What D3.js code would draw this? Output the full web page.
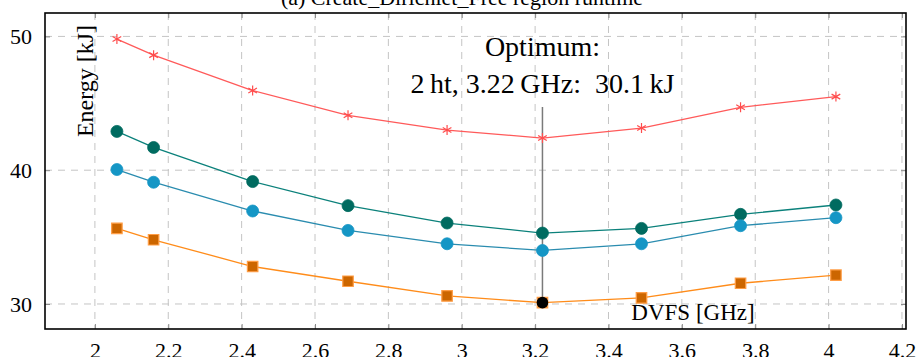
<!DOCTYPE html>
<html>
<head>
<meta charset="utf-8">
<script src="https://cdn.jsdelivr.net/npm/d3@7"></script>
<style>
  body { margin: 0; background: #fff; }
</style>
</head>
<body>
<svg id="chart" width="917" height="357"></svg>
<script>
// data
var freqs = [2.06, 2.16, 2.43, 2.69, 2.96, 3.22, 3.49, 3.76, 4.02];
var redStar = [49.8, 48.6, 45.95, 44.1, 43.0, 42.4, 43.15, 44.7, 45.5];
var tealDot = [42.9, 41.7, 39.15, 37.35, 36.05, 35.3, 35.65, 36.7, 37.4];
var blueDot = [40.05, 39.1, 36.95, 35.5, 34.5, 34.0, 34.5, 35.85, 36.45];
var orangeSq = [35.65, 34.8, 32.8, 31.7, 30.6, 30.1, 30.45, 31.55, 32.15];
var xTicks = [2, 2.2, 2.4, 2.6, 2.8, 3, 3.2, 3.4, 3.6, 3.8, 4, 4.2];
var yTicks = [30, 40, 50];
var optimum = { x: 3.22, y: 30.1 };

var serif = "'Liberation Serif', 'DejaVu Serif', serif";

var svg = d3.select("#chart"),
  margin = { top: 13, right: 11, bottom: 28, left: 45 },
  width = +svg.attr("width") - margin.left - margin.right,
  height = +svg.attr("height") - margin.top - margin.bottom;

var x = d3.scaleLinear().domain([1.864, 4.211]).range([0, width]);
var y = d3.scaleLinear().domain([28.13, 51.75]).range([height, 0]);

// title, cut by the top edge
svg.append("text")
  .attr("x", 462).attr("y", 5)
  .attr("text-anchor", "middle")
  .style("font-family", serif).style("font-size", "22px")
  .text("(a) Create_Dirichlet_Free region runtime");

var g = svg.append("g").attr("transform", "translate(" + margin.left + "," + margin.top + ")");

// grid
g.append("g").selectAll("line").data(xTicks).enter().append("line")
  .attr("x1", d => x(d)).attr("x2", d => x(d))
  .attr("y1", 0).attr("y2", height)
  .attr("stroke", "#c4c4c4").attr("stroke-dasharray", "7,6");
g.append("g").selectAll("line").data(yTicks).enter().append("line")
  .attr("y1", d => y(d)).attr("y2", d => y(d))
  .attr("x1", 0).attr("x2", width)
  .attr("stroke", "#c4c4c4").attr("stroke-dasharray", "7,6");

// axes with inward ticks on all sides
function styleAxis(sel) {
  sel.select(".domain").remove();
  sel.selectAll(".tick line").attr("stroke", "#8a8a8a");
  sel.selectAll("text").style("font-family", serif).style("font-size", "22px").attr("fill", "#000");
}
g.append("g").attr("transform", "translate(0," + height + ")")
  .call(d3.axisBottom(x).tickValues(xTicks).tickFormat(d3.format("")).tickSizeInner(-5).tickSizeOuter(0).tickPadding(13))
  .call(styleAxis);
g.append("g")
  .call(d3.axisTop(x).tickValues(xTicks).tickSizeInner(-5).tickSizeOuter(0).tickFormat(""))
  .call(styleAxis);
g.append("g")
  .call(d3.axisLeft(y).tickValues(yTicks).tickSizeInner(-5).tickSizeOuter(0).tickPadding(13))
  .call(styleAxis);
g.append("g").attr("transform", "translate(" + width + ",0)")
  .call(d3.axisRight(y).tickValues(yTicks).tickSizeInner(-5).tickSizeOuter(0).tickFormat(""))
  .call(styleAxis);

g.append("rect")
  .attr("width", width).attr("height", height)
  .attr("fill", "none").attr("stroke", "#000").attr("stroke-width", 1.6);

// optimum marker line
g.append("line")
  .attr("x1", x(optimum.x)).attr("x2", x(optimum.x))
  .attr("y1", y(optimum.y)).attr("y2", 94)
  .attr("stroke", "#7a7a7a").attr("stroke-width", 1.5);

var line = d3.line().x((d, i) => x(freqs[i])).y(d => y(d));

var series = [
  { values: redStar, line: "#ff5a5a", fill: "none", stroke: "#ff4d4d", mark: "star" },
  { values: tealDot, line: "#0b817b", fill: "#006b60", stroke: "#006b60", mark: "circle" },
  { values: blueDot, line: "#2a8caf", fill: "#1596c5", stroke: "#1596c5", mark: "circle" },
  { values: orangeSq, line: "#ff8c1a", fill: "#cc6600", stroke: "#ff9d45", mark: "square" }
];

series.forEach(function (s) {
  g.append("path").datum(s.values)
    .attr("d", line)
    .attr("fill", "none").attr("stroke", s.line).attr("stroke-width", 1.3);

  var pts = g.append("g").selectAll("path").data(s.values).enter().append("path")
    .attr("transform", (d, i) => "translate(" + x(freqs[i]) + "," + y(d) + ")");
  if (s.mark == "star") {
    pts.attr("d", d3.symbol(d3.symbolAsterisk, 70)).attr("fill", "none")
      .attr("stroke", s.stroke).attr("stroke-width", 1.2);
  } else if (s.mark == "circle") {
    pts.attr("d", d3.symbol(d3.symbolCircle, 113)).attr("fill", s.fill)
      .attr("stroke", s.stroke).attr("stroke-width", 0.8);
  } else {
    pts.attr("d", d3.symbol(d3.symbolSquare, 110)).attr("fill", s.fill)
      .attr("stroke", s.stroke).attr("stroke-width", 1.2);
  }
});

// optimum point
g.append("circle")
  .attr("cx", x(optimum.x)).attr("cy", y(optimum.y)).attr("r", 5.8)
  .attr("fill", "#000");

// annotation
g.append("text")
  .attr("x", x(optimum.x)).attr("y", 43)
  .attr("text-anchor", "middle")
  .style("font-family", serif).style("font-size", "28px")
  .text("Optimum:");
g.append("text")
  .attr("x", x(optimum.x)).attr("y", 80)
  .attr("text-anchor", "middle")
  .style("font-family", serif).style("font-size", "28px")
  .text("2\u2009ht, 3.22\u2009GHz:\u00a0 30.1\u2009kJ");

// axis labels, placed inside the plot
svg.append("text")
  .attr("transform", "translate(93,81) rotate(-90)")
  .attr("text-anchor", "middle")
  .style("font-family", serif).style("font-size", "24px")
  .text("Energy [kJ]");
svg.append("text")
  .attr("x", 693).attr("y", 320)
  .attr("text-anchor", "middle")
  .style("font-family", serif).style("font-size", "23px")
  .text("DVFS [GHz]");
</script>
</body>
</html>
